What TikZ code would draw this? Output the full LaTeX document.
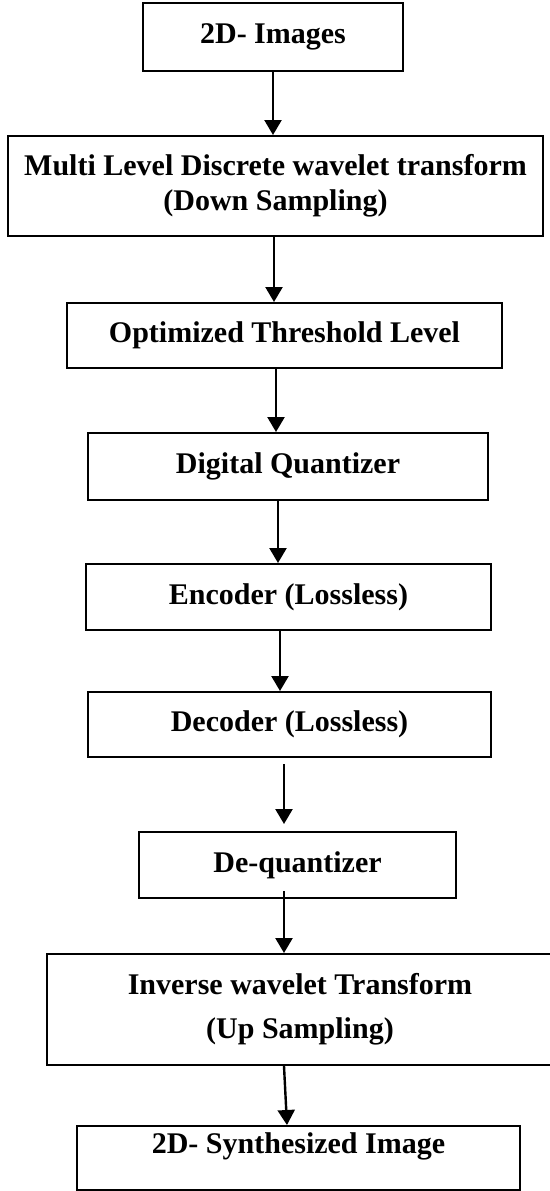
\documentclass[tikz,border=0pt]{standalone}
\usepackage{fontspec}
\setmainfont{Liberation Serif}
\usetikzlibrary{arrows.meta}
\tikzstyle{block} = [draw, line width=1pt, inner sep=0pt, align=center, font=\bfseries\fontsize{15}{17.5}\selectfont]
\tikzstyle{flow} = [->, line width=1.2pt]
\tikzset{>={Triangle[width=8.5pt,length=7.5pt]}}

\begin{document}
\begin{tikzpicture}[x=0.5pt, y=-0.5pt]
  \useasboundingbox (0,0) rectangle (550,1191);
  % Blocks
  \node[block, minimum width=130pt, minimum height=34pt] (images) at (273,37) {2D- Images};
  \node[block, minimum width=267.5pt, minimum height=50pt] (dwt) at (275.5,186) {Multi Level Discrete wavelet transform\\(Down Sampling)};
  \node[block, minimum width=217.5pt, minimum height=32.5pt] (thresh) at (284.5,335.5) {Optimized Threshold Level};
  \node[block, minimum width=200pt, minimum height=33.5pt] (quant) at (288,466.5) {Digital Quantizer};
  \node[block, minimum width=202.5pt, minimum height=33pt] (enc) at (288.5,597) {Encoder (Lossless)};
  \node[block, minimum width=201.5pt, minimum height=32.5pt] (dec) at (289.5,724.5) {Decoder (Lossless)};
  \node[block, minimum width=158.5pt, minimum height=33pt] (dequant) at (297.5,865) {De-quantizer};
  \node[block, minimum width=253pt, minimum height=55.5pt, font=\bfseries\fontsize{15}{22}\selectfont] (idwt) at (300,1009.5) {Inverse wavelet Transform\\(Up Sampling)};
  \node[block, minimum width=221.5pt, minimum height=32pt, text depth=15pt] (synth) at (298.5,1158) {2D- Synthesized Image};
  % Arrows
  \draw[flow] (images.south) -- ([xshift=-1.25pt]dwt.north);
  \draw[flow] ([xshift=-0.75pt]dwt.south) -- ([xshift=-5.25pt]thresh.north);
  \draw[flow] ([xshift=-4.25pt]thresh.south) -- ([xshift=-6pt]quant.north);
  \draw[flow] ([xshift=-5pt]quant.south) -- ([xshift=-5.25pt]enc.north);
  \draw[flow] ([xshift=-4.25pt]enc.south) -- ([xshift=-4.75pt]dec.north);
  \draw[flow] ([xshift=-2.75pt,yshift=-3pt]dec.south) -- ([xshift=-6.75pt,yshift=3.5pt]dequant.north);
  \draw[flow] ([xshift=-6.75pt,yshift=4pt]dequant.south) -- ([xshift=-8pt]idwt.north);
  \draw[flow] ([xshift=-8pt]idwt.south) -- ([xshift=-5.75pt]synth.north);
\end{tikzpicture}
\end{document}
